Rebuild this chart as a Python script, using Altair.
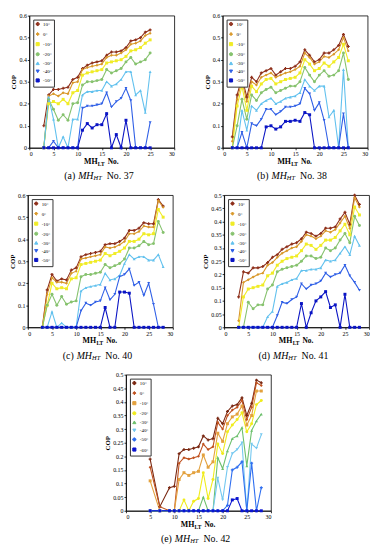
import altair as alt
import pandas as pd

FONT = "Liberation Serif"

# ---------------- panel (a): MH_HT No. 37 ----------------
A_X = list(range(3, 26))
A_P10 = [0.10, 0.24, 0.265, 0.265, 0.27, 0.275, 0.31, 0.32, 0.36, 0.375, 0.385, 0.39, 0.395, 0.42, 0.435, 0.435, 0.44, 0.455, 0.485, 0.49, 0.50, 0.525, 0.535]
A_0 = [0.0, 0.235, 0.245, 0.235, 0.25, 0.245, 0.295, 0.30, 0.355, 0.365, 0.37, 0.375, 0.38, 0.41, 0.42, 0.42, 0.43, 0.445, 0.47, 0.475, 0.485, 0.51, 0.52]
A_M10 = [0, 0.20, 0.21, 0.20, 0.22, 0.20, 0.25, 0.26, 0.33, 0.34, 0.345, 0.35, 0.355, 0.385, 0.39, 0.395, 0.40, 0.415, 0.44, 0.445, 0.455, 0.475, 0.49]
A_M20 = [0, 0.22, 0.175, 0.125, 0.15, 0.125, 0.20, 0.205, 0.285, 0.30, 0.30, 0.305, 0.31, 0.355, 0.34, 0.35, 0.36, 0.39, 0.41, 0.38, 0.39, 0.40, 0.43]
A_M30 = [0, 0.23, 0.13, 0, 0.05, 0, 0.13, 0.13, 0.24, 0.255, 0.255, 0.26, 0.26, 0.30, 0.28, 0.29, 0.31, 0.345, 0.345, 0.24, 0.26, 0.16, 0.345]
A_M40 = [0, 0, 0.03, 0, 0, 0, 0, 0, 0.18, 0.19, 0.19, 0.195, 0.20, 0.25, 0.185, 0.21, 0.225, 0.27, 0.215, 0, 0, 0, 0.115]
A_M50 = [0, 0, 0, 0, 0, 0, 0, 0, 0.08, 0.11, 0.09, 0.105, 0.105, 0.155, 0, 0.06, 0, 0.125, 0, 0, 0, 0, 0]

# ---------------- panel (b): MH_HT No. 38 ----------------
B_X = list(range(2, 27))
B_P10 = [0.05, 0.24, 0.32, 0.23, 0.32, 0.30, 0.34, 0.35, 0.36, 0.33, 0.345, 0.36, 0.36, 0.37, 0.39, 0.445, 0.42, 0.39, 0.40, 0.43, 0.43, 0.445, 0.465, 0.515, 0.46]
B_0 = [0.03, 0.22, 0.305, 0.21, 0.30, 0.285, 0.32, 0.33, 0.34, 0.32, 0.33, 0.34, 0.345, 0.355, 0.37, 0.43, 0.41, 0.38, 0.39, 0.415, 0.41, 0.425, 0.445, 0.50, 0.44]
B_M10 = [0, 0.19, 0.28, 0.17, 0.28, 0.255, 0.29, 0.31, 0.315, 0.29, 0.30, 0.31, 0.315, 0.32, 0.34, 0.40, 0.38, 0.35, 0.36, 0.385, 0.37, 0.39, 0.41, 0.47, 0.395]
B_M20 = [0, 0.10, 0.22, 0.13, 0.24, 0.215, 0.25, 0.265, 0.275, 0.25, 0.26, 0.27, 0.28, 0.28, 0.30, 0.365, 0.33, 0.30, 0.33, 0.35, 0.325, 0.33, 0.35, 0.43, 0.31]
B_M30 = [0, 0, 0.17, 0.08, 0.19, 0.17, 0.20, 0.215, 0.225, 0.20, 0.21, 0.225, 0.23, 0.235, 0.25, 0.31, 0.28, 0.26, 0.28, 0.28, 0.14, 0.17, 0, 0.355, 0]
B_M40 = [0, 0, 0.07, 0, 0.11, 0.10, 0.13, 0.175, 0.175, 0.15, 0.165, 0.185, 0.185, 0.19, 0.20, 0.27, 0.245, 0.17, 0.205, 0.125, 0, 0, 0, 0.155, 0]
B_M50 = [0, 0, 0, 0, 0, 0, 0, 0.095, 0.10, 0.085, 0.095, 0.12, 0.12, 0.125, 0.12, 0.16, 0.15, 0, 0, 0, 0, 0, 0, 0, 0]

# ---------------- panel (c): MH_HT No. 40 ----------------
C_X = list(range(3, 29))
C_P10 = [0, 0.17, 0.24, 0.21, 0.22, 0.215, 0.26, 0.27, 0.32, 0.33, 0.335, 0.34, 0.345, 0.375, 0.38, 0.38, 0.39, 0.405, 0.44, 0.44, 0.45, 0.475, 0.47, 0.47, 0.58, 0.55]
C_0 = [0, 0.15, 0.225, 0.205, 0.205, 0.20, 0.245, 0.255, 0.31, 0.315, 0.32, 0.325, 0.33, 0.365, 0.36, 0.365, 0.375, 0.39, 0.425, 0.425, 0.435, 0.46, 0.455, 0.455, 0.575, 0.545]
C_M10 = [0, 0.10, 0.20, 0.175, 0.18, 0.175, 0.22, 0.225, 0.285, 0.29, 0.295, 0.30, 0.305, 0.335, 0.325, 0.335, 0.345, 0.36, 0.39, 0.39, 0.40, 0.425, 0.42, 0.425, 0.535, 0.50]
C_M20 = [0, 0.10, 0.15, 0.10, 0.14, 0.105, 0.115, 0.12, 0.23, 0.24, 0.24, 0.245, 0.25, 0.285, 0.27, 0.28, 0.29, 0.31, 0.36, 0.36, 0.37, 0.39, 0.375, 0.38, 0.48, 0.43]
C_M30 = [0, 0, 0.07, 0, 0.02, 0, 0, 0, 0.165, 0.18, 0.185, 0.19, 0.195, 0.245, 0.215, 0.22, 0.235, 0.29, 0.33, 0.31, 0.32, 0.32, 0.305, 0.305, 0.33, 0.275]
C_M40 = [0, 0, 0, 0, 0, 0, 0, 0, 0.075, 0.11, 0.10, 0.115, 0.12, 0.18, 0.125, 0.15, 0.23, 0.24, 0.265, 0.19, 0.205, 0.145, 0.20, 0.105, 0, 0]
C_M50 = [0, 0, 0, 0, 0, 0, 0, 0, 0, 0, 0, 0, 0, 0.09, 0, 0, 0.16, 0.16, 0.155, 0, 0, 0, 0, 0, 0, 0]

# ---------------- panel (d): MH_HT No. 41 ----------------
D_X = list(range(3, 29))
D_P10 = [0.115, 0.21, 0.205, 0.225, 0.225, 0.23, 0.245, 0.265, 0.275, 0.295, 0.305, 0.315, 0.32, 0.335, 0.36, 0.355, 0.345, 0.355, 0.375, 0.375, 0.38, 0.41, 0.435, 0.39, 0.50, 0.465]
D_0 = [0.025, 0.17, 0.18, 0.19, 0.20, 0.205, 0.235, 0.245, 0.265, 0.28, 0.29, 0.30, 0.305, 0.325, 0.35, 0.345, 0.335, 0.345, 0.365, 0.36, 0.37, 0.395, 0.42, 0.375, 0.49, 0.455]
D_M10 = [0, 0.115, 0.145, 0.15, 0.155, 0.16, 0.195, 0.205, 0.235, 0.25, 0.26, 0.265, 0.27, 0.29, 0.315, 0.31, 0.295, 0.31, 0.33, 0.33, 0.34, 0.365, 0.39, 0.35, 0.455, 0.425]
D_M20 = [0, 0, 0.095, 0.07, 0.085, 0.085, 0.145, 0.16, 0.21, 0.22, 0.225, 0.23, 0.235, 0.25, 0.27, 0.27, 0.26, 0.265, 0.30, 0.29, 0.30, 0.33, 0.355, 0.32, 0.42, 0.385]
D_M30 = [0, 0, 0, 0, 0, 0, 0.04, 0.06, 0.155, 0.165, 0.17, 0.18, 0.185, 0.215, 0.215, 0.22, 0.22, 0.225, 0.255, 0.25, 0.255, 0.28, 0.305, 0.275, 0.345, 0.31]
D_M40 = [0, 0, 0, 0, 0, 0, 0, 0, 0.045, 0.095, 0.09, 0.105, 0.115, 0.165, 0.145, 0.16, 0.165, 0.175, 0.205, 0.19, 0.20, 0.205, 0.235, 0.195, 0.17, 0.14]
D_M50 = [0, 0, 0, 0, 0, 0, 0, 0, 0, 0, 0, 0, 0, 0.09, 0, 0.055, 0.10, 0.115, 0.135, 0.075, 0.085, 0, 0.125, 0, 0, 0]

# ---------------- panel (e): MH_HT No. 42 ----------------
E_X = [5, 7, 9, 10, 11, 12, 13, 14, 15, 16, 17, 18, 19, 20, 21, 22, 23, 24, 25, 26, 27, 28]
E_P10 = [0.19, 0.015, 0.085, 0.09, 0.21, 0.225, 0.225, 0.23, 0.235, 0.275, 0.26, 0.265, 0.34, 0.32, 0.365, 0.385, 0.39, 0.415, 0.35, 0.395, 0.48, 0.47]
E_0 = [0.16, 0.015, 0, 0, 0.175, 0.195, 0.19, 0.195, 0.20, 0.245, 0.225, 0.235, 0.325, 0.30, 0.35, 0.37, 0.38, 0.405, 0.335, 0.38, 0.47, 0.46]
E_M10 = [0.11, 0, 0, 0, 0.115, 0.14, 0.13, 0.14, 0.145, 0.205, 0.16, 0.18, 0.285, 0.255, 0.32, 0.345, 0.355, 0.385, 0.315, 0.35, 0.44, 0.44]
E_M20 = [0, 0, 0, 0, 0, 0.04, 0, 0.035, 0.045, 0.14, 0.045, 0.115, 0.245, 0.21, 0.29, 0.315, 0.335, 0.36, 0.29, 0.32, 0.39, 0.405]
E_M30 = [0, 0, 0, 0, 0, 0, 0, 0, 0, 0.05, 0, 0, 0.195, 0.155, 0.22, 0.265, 0.275, 0.305, 0.165, 0.295, 0.33, 0.355]
E_M40 = [0, 0, 0, 0, 0, 0, 0, 0, 0, 0, 0, 0, 0.12, 0.04, 0.16, 0.21, 0.225, 0.25, 0, 0.245, 0.23, 0.28]
E_M50 = [0, 0, 0, 0, 0, 0, 0, 0, 0, 0, 0, 0, 0, 0, 0.02, 0.15, 0.16, 0.18, 0, 0.175, 0, 0.085]
E_M60 = [0, 0, 0, 0, 0, 0, 0, 0, 0, 0, 0, 0, 0, 0, 0, 0.04, 0.045, 0, 0, 0, 0, 0]

# ---------------- legends / styles ----------------
LAB7 = ["10°", "0°", "-10°", "-20°", "-30°", "-40°", "-50°"]
COL7 = ["#8e2f1a", "#d9982a", "#f0ec26", "#86c26e", "#62c1ee", "#2f5fe6", "#0a14c4"]
SHP7 = ["cross", "diamond", "square", "circle", "triangle-up", "triangle-down", "square"]
LAB8 = ["10°", "0°", "-10°", "-20°", "-30°", "-40°", "-50°", "-60°"]
COL8 = ["#7a2812", "#c0521f", "#e3a13d", "#f0ec1c", "#6dc06d", "#74c8f0", "#2f6ff0", "#0a14d0"]
SHP8 = ["cross", "diamond", "square", "circle", "triangle-up", "triangle-down", "cross", "square"]

X_TICKS = [0, 5, 10, 15, 20, 25, 30]
Y_TICKS_6 = [0, 0.1, 0.2, 0.3, 0.4, 0.5, 0.6]
Y_TICKS_5 = [0, 0.05, 0.1, 0.15, 0.2, 0.25, 0.3, 0.35, 0.4, 0.45, 0.5]

W = 147


def one(text):
    return alt.Chart(pd.DataFrame({"t": [text]}))


def panel(xs, series, labels, colors, shapes, ymax, yticks, letter, num, H):
    rows = []
    for lab, vals in zip(labels, series):
        for xv, v in zip(xs, vals):
            rows.append({"x": xv, "cop": v, "t": lab})
    df = pd.DataFrame(rows)
    leg = alt.Legend(title=None, orient="top-left", offset=4, padding=2,
                     strokeColor="#333", fillColor="white", labelFontSize=5,
                     labelFont=FONT, symbolSize=10, rowPadding=1.2,
                     labelOffset=3, symbolStrokeWidth=1, labelColor="black")
    color = alt.Color("t:N", scale=alt.Scale(domain=labels, range=colors), legend=leg)
    shape = alt.Shape("t:N", scale=alt.Scale(domain=labels, range=shapes), legend=leg)
    base = alt.Chart(df).encode(
        x=alt.X("x:Q", scale=alt.Scale(domain=[0, 30], nice=False),
                axis=alt.Axis(values=X_TICKS, title=None)),
        y=alt.Y("cop:Q", scale=alt.Scale(domain=[0, ymax], nice=False),
                axis=alt.Axis(values=yticks, title="COP", format="~g")),
    )
    lines = base.mark_line(strokeWidth=1.1).encode(color=color, detail="t:N")
    pts = base.mark_point(size=9, filled=True, opacity=1).encode(color=color, shape=shape)

    cx = W / 2
    xt1 = one("MH").mark_text(font=FONT, fontSize=8, fontWeight="bold", align="left",
                              baseline="middle").encode(text="t:N", x=alt.value(cx - 18), y=alt.value(H + 14))
    xt2 = one("LT").mark_text(font=FONT, fontSize=5.5, fontWeight="bold", align="left",
                              baseline="middle").encode(text="t:N", x=alt.value(cx - 4), y=alt.value(H + 16))
    xt3 = one("No.").mark_text(font=FONT, fontSize=7.5, fontWeight="bold", align="left",
                               baseline="middle").encode(text="t:N", x=alt.value(cx + 6), y=alt.value(H + 14))
    x0 = cx - 24
    cy = H + 29
    c1 = one("(" + letter + ")").mark_text(font=FONT, fontSize=10, align="right",
                                          baseline="middle").encode(text="t:N", x=alt.value(x0 - 3), y=alt.value(cy))
    c2 = one("MH").mark_text(font=FONT, fontSize=10, fontStyle="italic", align="left",
                             baseline="middle").encode(text="t:N", x=alt.value(x0), y=alt.value(cy))
    c3 = one("HT").mark_text(font=FONT, fontSize=6.5, fontStyle="italic", align="left",
                             baseline="middle").encode(text="t:N", x=alt.value(x0 + 15.6), y=alt.value(cy + 2))
    c4 = one("No. " + num).mark_text(font=FONT, fontSize=10, align="left",
                                     baseline="middle").encode(text="t:N", x=alt.value(x0 + 29), y=alt.value(cy))
    return alt.layer(lines, pts, xt1, xt2, xt3, c1, c2, c3, c4).properties(width=W, height=H)


pa = panel(A_X, [A_P10, A_0, A_M10, A_M20, A_M30, A_M40, A_M50], LAB7, COL7, SHP7, 0.6, Y_TICKS_6, "a", "37", 134)
pb = panel(B_X, [B_P10, B_0, B_M10, B_M20, B_M30, B_M40, B_M50], LAB7, COL7, SHP7, 0.6, Y_TICKS_6, "b", "38", 134)
pc = panel(C_X, [C_P10, C_0, C_M10, C_M20, C_M30, C_M40, C_M50], LAB7, COL7, SHP7, 0.6, Y_TICKS_6, "c", "40", 134)
pd_ = panel(D_X, [D_P10, D_0, D_M10, D_M20, D_M30, D_M40, D_M50], LAB7, COL7, SHP7, 0.5, Y_TICKS_5, "d", "41", 134)
pe = panel(E_X, [E_P10, E_0, E_M10, E_M20, E_M30, E_M40, E_M50, E_M60], LAB8, COL8, SHP8, 0.5, Y_TICKS_5, "e", "42", 138)

IND = dict(color="independent", shape="independent", x="independent", y="independent")
LIND = dict(color="independent", shape="independent")
row1 = alt.hconcat(pa, pb, spacing=28).resolve_scale(**IND).resolve_legend(**LIND)
row2 = alt.hconcat(pc, pd_, spacing=28).resolve_scale(**IND).resolve_legend(**LIND)

chart = alt.vconcat(row1, row2, pe, spacing=9, center=True).resolve_scale(**IND).resolve_legend(
    **LIND
).properties(padding=0, background="white").configure_axis(
    labelFont=FONT, labelFontSize=6, labelPadding=1, tickSize=2, labelColor="black",
    titleFont=FONT, titleFontSize=7, titleFontWeight="bold", titlePadding=2, titleColor="black",
    domainColor="black", tickColor="black", grid=False, domainWidth=0.8, tickWidth=0.8,
).configure_view(stroke="black", strokeWidth=0.8)

chart.save("out.html", embed_options={"renderer": "svg", "actions": False})
